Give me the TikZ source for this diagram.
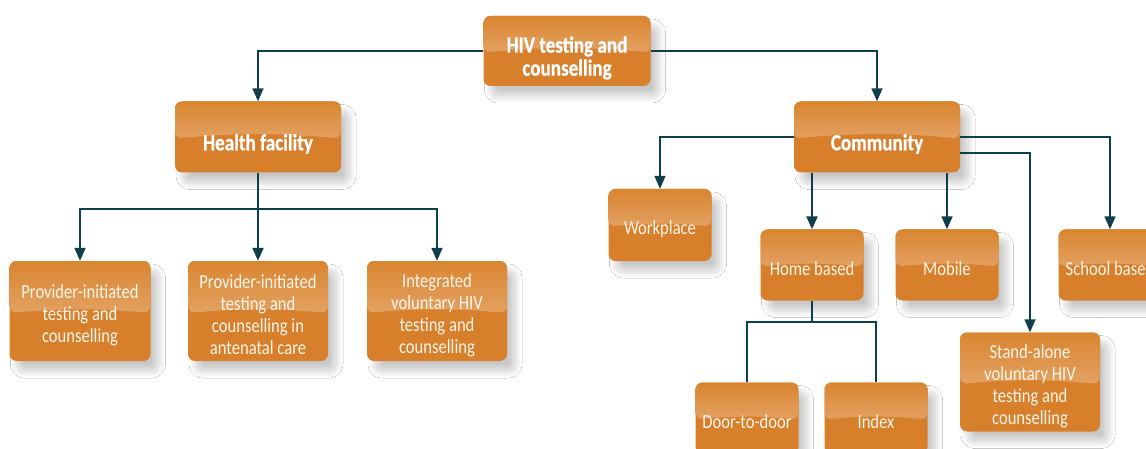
\documentclass[tikz,border=0pt]{standalone}
\usepackage{fontspec}
\setmainfont{Carlito}[FakeStretch=0.83, BoldFeatures={FakeBold=0.8}]
\usetikzlibrary{arrows.meta,calc,shadows.blur}
\definecolor{boxor}{HTML}{D77F2A}
\definecolor{boxlt}{HTML}{E3A162}
\definecolor{boxtop}{HTML}{D9852F}
\definecolor{lnc}{HTML}{0E3F4C}
\definecolor{txt}{HTML}{FFF6EC}
\tikzset{
 obox/.style={draw=none, fill=boxor, rounded corners=7pt, inner sep=0pt,
   blur shadow={shadow xshift=8pt,shadow yshift=-10pt,shadow blur radius=7pt,shadow opacity=22,shadow blur steps=25},
   path picture={
     \coordinate (nw) at (path picture bounding box.north west);
     \coordinate (se) at (path picture bounding box.south east);
     \shade[top color=boxtop, bottom color=boxlt] (nw) -- (nw-|se) -- ($(nw-|se)!0.52!(se)$) to[bend right=5] ($(nw)!0.52!(nw|-se)$) -- cycle;
   }},
 btext/.style={inner sep=0pt, align=center, text=txt, yshift=-4pt, font=\fontsize{20}{22}\selectfont},
 bbold/.style={btext, yshift=-3pt, text=white, font=\fontsize{23}{23}\selectfont\bfseries},
 conn/.style={draw=lnc, line width=1.5pt},
 arr/.style={conn, -{Triangle[length=13pt,width=11pt]}},
}
\begin{document}
\begin{tikzpicture}[x=1pt,y=-1pt]
\useasboundingbox (0,0) rectangle (1146,449);
\clip (0,0) rectangle (1146,449);
\fill[white] (0,0) rectangle (1146,449);
% nodes
\node[obox, minimum width=167pt, minimum height=70pt, label={[bbold]center:HIV testing and\\counselling}] (hiv) at (567,51) {};
\node[obox, minimum width=166pt, minimum height=71pt, label={[bbold]center:Health facility}] (health) at (258,137) {};
\node[obox, minimum width=166pt, minimum height=71pt, label={[bbold]center:Community}] (comm) at (877,137) {};
\node[obox, minimum width=141pt, minimum height=100pt, label={[btext]center:Provider-initiated\\testing and\\counselling}] (p1) at (80,311) {};
\node[obox, minimum width=140pt, minimum height=100pt, label={[btext]center:Provider-initiated\\testing and\\counselling in\\antenatal care}] (p2) at (258,311) {};
\node[obox, minimum width=140pt, minimum height=100pt, label={[btext]center:Integrated\\voluntary HIV\\testing and\\counselling}] (p3) at (437,311) {};
\node[obox, minimum width=103pt, minimum height=72pt, label={[btext]center:Workplace}] (work) at (660,225) {};
\node[obox, minimum width=103pt, minimum height=71pt, label={[btext]center:Home based}] (home) at (812,265) {};
\node[obox, minimum width=103pt, minimum height=71pt, label={[btext]center:Mobile}] (mob) at (947,265) {};
\node[obox, minimum width=103pt, minimum height=71pt, label={[btext]center:School based}] (school) at (1110,265) {};
\node[obox, minimum width=140pt, minimum height=99pt, label={[btext]center:Stand-alone\\voluntary HIV\\testing and\\counselling}] (stand) at (1030,382) {};
\node[obox, minimum width=103pt, minimum height=71pt, label={[btext]center:Door-to-door}] (door) at (747,418) {};
\node[obox, minimum width=103pt, minimum height=71pt, label={[btext]center:Index}] (index) at (876,418) {};
% connectors
\draw[arr] (hiv.west) -| (health.north);
\draw[arr] (hiv.east) -| (comm.north);
\coordinate (hb) at (258,209);
\draw[conn, line width=2.2pt] (health.south) -- (hb);
\draw[arr] (hb) -| (p1.north);
\draw[arr, line width=2.2pt] (hb) -- (p2.north);
\draw[arr] (hb) -| (p3.north);
\draw[arr] (comm.west) -| (work.north);
\draw[arr] (comm.east) -| (school.north);
\draw[arr] ($(comm.east)+(0,16)$) -| (stand.north);
\draw[arr, line width=2.5pt] (comm.south -| home.north) -- (home.north);
\draw[arr] (comm.south -| mob.north) -- (mob.north);
\coordinate (cb) at (812,322);
\draw[conn] (home.south) -- (cb);
\draw[conn] (cb) -| (door.north);
\draw[conn] (cb) -| (index.north);
\end{tikzpicture}
\end{document}
